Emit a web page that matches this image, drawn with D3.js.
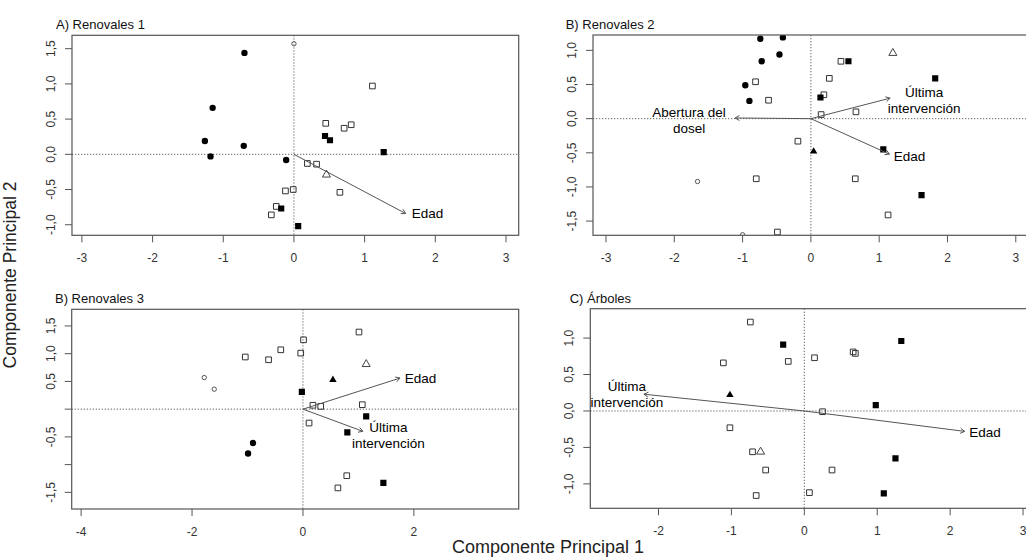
<!DOCTYPE html>
<html>
<head>
<meta charset="utf-8">
<script src="https://cdn.jsdelivr.net/npm/d3@7/dist/d3.min.js"></script>
<style>
  body { margin: 0; background: #fff; }
  svg { display: block; font-family: Arial, "Liberation Sans", sans-serif; }
</style>
</head>
<body>
<svg id="chart" width="1026" height="557"></svg>
<script>
// marker groups: a = filled circle, b = open square, c = filled square,
// d = open triangle, e = filled triangle, f = small open circle

// A) Renovales 1
const ren1Points = [
  [-0.70, 1.44, 'a'], [-1.15, 0.66, 'a'], [-1.26, 0.19, 'a'], [-0.71, 0.12, 'a'],
  [-1.18, -0.03, 'a'], [-0.11, -0.08, 'a'],
  [0.00, 1.57, 'f'],
  [1.11, 0.97, 'b'], [0.45, 0.44, 'b'], [0.71, 0.37, 'b'], [0.81, 0.42, 'b'],
  [0.19, -0.13, 'b'], [0.32, -0.14, 'b'], [0.65, -0.54, 'b'], [-0.12, -0.52, 'b'],
  [-0.01, -0.50, 'b'], [-0.25, -0.74, 'b'], [-0.32, -0.86, 'b'],
  [0.44, 0.26, 'c'], [0.51, 0.20, 'c'], [1.27, 0.03, 'c'], [-0.18, -0.77, 'c'], [0.06, -1.02, 'c'],
  [0.46, -0.29, 'd']
];
const ren1Vectors = [
  { label: ['Edad'], x: 1.58, y: -0.84 }
];

// B) Renovales 2
const ren2Points = [
  [-0.74, 1.17, 'a'], [-0.41, 1.19, 'a'], [-0.46, 0.94, 'a'], [-0.72, 0.84, 'a'],
  [-0.96, 0.49, 'a'], [-0.90, 0.26, 'a'],
  [-0.81, 0.54, 'b'], [-0.62, 0.27, 'b'], [0.44, 0.84, 'b'], [0.27, 0.59, 'b'],
  [0.19, 0.35, 'b'], [0.15, 0.06, 'b'], [0.66, 0.10, 'b'], [-0.19, -0.33, 'b'],
  [-0.80, -0.88, 'b'], [0.65, -0.88, 'b'], [1.13, -1.41, 'b'], [-0.49, -1.66, 'b'],
  [0.55, 0.84, 'c'], [1.82, 0.59, 'c'], [0.14, 0.31, 'c'], [1.06, -0.45, 'c'], [1.62, -1.12, 'c'],
  [0.04, -0.48, 'e'],
  [1.20, 0.96, 'd'],
  [-1.66, -0.92, 'f'], [-1.00, -1.70, 'f']
];
const ren2Vectors = [
  { label: ['Edad'], x: 1.15, y: -0.52 },
  { label: ['Última', 'intervención'], x: 1.16, y: 0.30 },
  { label: ['Abertura del', 'dosel'], x: -1.11, y: 0.01 }
];

// B) Renovales 3
const ren3Points = [
  [-1.78, 0.57, 'f'], [-1.60, 0.36, 'f'],
  [-1.04, 0.94, 'b'], [-0.62, 0.89, 'b'], [-0.40, 1.07, 'b'], [-0.04, 1.01, 'b'],
  [0.01, 1.25, 'b'], [0.18, 0.07, 'b'], [0.11, -0.25, 'b'], [0.32, 0.05, 'b'],
  [1.07, 0.08, 'b'], [1.01, 1.39, 'b'], [0.79, -1.20, 'b'], [0.63, -1.42, 'b'],
  [-0.02, 0.31, 'c'], [1.14, -0.13, 'c'], [0.80, -0.42, 'c'], [1.45, -1.33, 'c'],
  [-0.90, -0.61, 'a'], [-0.99, -0.80, 'a'],
  [1.14, 0.81, 'd'],
  [0.54, 0.53, 'e']
];
const ren3Vectors = [
  { label: ['Edad'], x: 1.75, y: 0.56 },
  { label: ['Última', 'intervención'], x: 1.08, y: -0.40 }
];

// C) Árboles
const arbPoints = [
  [-0.74, 1.22, 'b'], [-1.11, 0.66, 'b'], [-0.22, 0.68, 'b'], [0.14, 0.73, 'b'],
  [0.67, 0.81, 'b'], [0.70, 0.79, 'b'], [0.25, -0.01, 'b'], [-1.02, -0.23, 'b'],
  [-0.71, -0.56, 'b'], [-0.53, -0.81, 'b'], [0.38, -0.81, 'b'], [-0.66, -1.16, 'b'],
  [0.07, -1.12, 'b'],
  [-0.60, -0.56, 'd'],
  [-1.02, 0.22, 'e'],
  [-0.29, 0.91, 'c'], [1.33, 0.96, 'c'], [0.98, 0.08, 'c'], [1.25, -0.65, 'c'], [1.09, -1.13, 'c']
];
const arbVectors = [
  { label: ['Edad'], x: 2.20, y: -0.28 },
  { label: ['Última', 'intervención'], x: -2.20, y: 0.23 }
];

// tick values and labels
const ren1XTicks = [-3, -2, -1, 0, 1, 2, 3];
const ren1YTicks = [-1, -0.5, 0, 0.5, 1, 1.5];
const ren1YLabels = ['-1,0', '-0,5', '0,0', '0,5', '1,0', '1,5'];
const ren2XTicks = [-3, -2, -1, 0, 1, 2, 3];
const ren2YTicks = [-1.5, -1, -0.5, 0, 0.5, 1];
const ren2YLabels = ['-1,5', '-1,0', '-0,5', '0,0', '0,5', '1,0'];
const ren3XTicks = [-4, -2, 0, 2];
const ren3YTicks = [-1.5, -1, -0.5, 0, 0.5, 1, 1.5];
const ren3YLabels = ['-1,5', '', '-0,5', '', '0,5', '1,0', '1,5'];
const arbXTicks = [-2, -1, 0, 1, 2, 3];
const arbYTicks = [-1, -0.5, 0, 0.5, 1];
const arbYLabels = ['-1,0', '-0,5', '0,0', '0,5', '1,0'];

const panels = [
  {
    id: 'p1', title: 'A) Renovales 1', titleX: 56, titleY: 28.5,
    box: { left: 72, top: 35.3, right: 518.7, bottom: 235.3 },
    xDomain: [-3.14, 3.18], yDomain: [-1.15, 1.69],
    points: ren1Points, vectors: ren1Vectors,
    labelOffsets: [[22, 4.5]],
    xTicks: ren1XTicks, yTicks: ren1YTicks, yLabels: ren1YLabels
  },
  {
    id: 'p2', title: 'B) Renovales 2', titleX: 565.7, titleY: 28.5,
    box: { left: 593, top: 35, right: 1030, bottom: 235.3 },
    xDomain: [-3.19, 3.208], yDomain: [-1.708, 1.225],
    points: ren2Points, vectors: ren2Vectors,
    labelOffsets: [[20, 7], [34, -1.6], [-46, -1]],
    xTicks: ren2XTicks, yTicks: ren2YTicks, yLabels: ren2YLabels
  },
  {
    id: 'p3', title: 'B) Renovales 3', titleX: 55, titleY: 303,
    box: { left: 71.7, top: 309.3, right: 518.7, bottom: 509 },
    xDomain: [-4.17, 3.89], yDomain: [-1.8, 1.8],
    points: ren3Points, vectors: ren3Vectors,
    labelOffsets: [[20.5, 4.7], [25.5, 0.6]],
    xTicks: ren3XTicks, yTicks: ren3YTicks, yLabels: ren3YLabels
  },
  {
    id: 'p4', title: 'C) Árboles', titleX: 569.7, titleY: 303,
    box: { left: 590.3, top: 308.7, right: 1034, bottom: 508.3 },
    xDomain: [-2.935, 3.15], yDomain: [-1.335, 1.403],
    points: arbPoints, vectors: arbVectors,
    labelOffsets: [[20.3, 5.8], [-17, -3.6]],
    xTicks: arbXTicks, yTicks: arbYTicks, yLabels: arbYLabels
  }
];

const svg = d3.select('#chart');
const axisColor = '#555';
const tickColor = '#333';

const symbolFor = {
  a: { type: d3.symbolCircle, size: 32, fill: '#000', stroke: 'none' },
  b: { type: d3.symbolSquare, size: 32, fill: 'none', stroke: '#333' },
  c: { type: d3.symbolSquare, size: 38, fill: '#000', stroke: 'none' },
  d: { type: d3.symbolTriangle, size: 28, fill: 'none', stroke: '#444' },
  e: { type: d3.symbolTriangle, size: 24, fill: '#000', stroke: 'none' },
  f: { type: d3.symbolCircle, size: 15, fill: 'none', stroke: '#555' }
};

function drawPanel(p) {
  const { box } = p;
  const x = d3.scaleLinear().domain(p.xDomain).range([box.left, box.right]);
  const y = d3.scaleLinear().domain(p.yDomain).range([box.bottom, box.top]);

  const g = svg.append('g').attr('class', 'panel ' + p.id);

  g.append('clipPath').attr('id', 'clip-' + p.id)
    .append('rect')
    .attr('x', box.left).attr('y', box.top)
    .attr('width', box.right - box.left).attr('height', box.bottom - box.top);

  // title
  g.append('text')
    .attr('x', p.titleX).attr('y', p.titleY)
    .attr('font-size', 13).attr('fill', '#111')
    .text(p.title);

  const plot = g.append('g').attr('clip-path', `url(#clip-${p.id})`);

  // dotted zero lines
  plot.append('line')
    .attr('x1', box.left).attr('x2', box.right)
    .attr('y1', y(0)).attr('y2', y(0))
    .attr('stroke', '#666').attr('stroke-width', 1).attr('stroke-dasharray', '1.3,1.7');
  plot.append('line')
    .attr('x1', x(0)).attr('x2', x(0))
    .attr('y1', box.top).attr('y2', box.bottom)
    .attr('stroke', '#666').attr('stroke-width', 1).attr('stroke-dasharray', '1.3,1.7');

  // points
  plot.selectAll('path.pt')
    .data(p.points)
    .enter()
    .append('path')
    .attr('class', 'pt')
    .attr('transform', d => `translate(${x(d[0])},${y(d[1])})`)
    .attr('d', d => d3.symbol().type(symbolFor[d[2]].type).size(symbolFor[d[2]].size)())
    .attr('fill', d => symbolFor[d[2]].fill)
    .attr('stroke', d => symbolFor[d[2]].stroke)
    .attr('stroke-width', 1);

  // vectors
  p.vectors.forEach((v, i) => {
    const x0 = x(0), y0 = y(0), x1 = x(v.x), y1 = y(v.y);
    const ang = Math.atan2(y1 - y0, x1 - x0);
    const headLen = 5, spread = Math.PI / 6;
    plot.append('line')
      .attr('x1', x0).attr('y1', y0).attr('x2', x1).attr('y2', y1)
      .attr('stroke', '#555').attr('stroke-width', 1);
    plot.append('path')
      .attr('d', d3.line()([
        [x1 - headLen * Math.cos(ang - spread), y1 - headLen * Math.sin(ang - spread)],
        [x1, y1],
        [x1 - headLen * Math.cos(ang + spread), y1 - headLen * Math.sin(ang + spread)]
      ]))
      .attr('fill', 'none').attr('stroke', '#555').attr('stroke-width', 1);

    const [dx, dy] = p.labelOffsets[i];
    const t = g.append('text')
      .attr('x', x1 + dx).attr('y', y1 + dy)
      .attr('text-anchor', 'middle')
      .attr('font-size', 13.5).attr('fill', '#000');
    v.label.forEach((line, k) => {
      t.append('tspan').attr('x', x1 + dx).attr('dy', k === 0 ? 0 : 16).text(line);
    });
  });

  // box
  g.append('rect')
    .attr('x', box.left).attr('y', box.top)
    .attr('width', box.right - box.left).attr('height', box.bottom - box.top)
    .attr('fill', 'none').attr('stroke', axisColor).attr('stroke-width', 1.2);

  // x axis ticks
  const xAxis = g.append('g').attr('class', 'x-axis');
  xAxis.selectAll('line')
    .data(p.xTicks).enter().append('line')
    .attr('x1', d => x(d)).attr('x2', d => x(d))
    .attr('y1', box.bottom).attr('y2', box.bottom + 7)
    .attr('stroke', axisColor);
  xAxis.selectAll('text')
    .data(p.xTicks).enter().append('text')
    .attr('x', d => x(d)).attr('y', box.bottom + 27)
    .attr('text-anchor', 'middle')
    .attr('font-size', 12).attr('fill', tickColor)
    .text(d => d3.format('d')(d).replace('−', '-'));

  // y axis ticks
  const yAxis = g.append('g').attr('class', 'y-axis');
  yAxis.selectAll('line')
    .data(p.yTicks).enter().append('line')
    .attr('x1', box.left - 7).attr('x2', box.left)
    .attr('y1', d => y(d)).attr('y2', d => y(d))
    .attr('stroke', axisColor);
  yAxis.selectAll('text')
    .data(p.yTicks).enter().append('text')
    .attr('transform', d => `translate(${box.left - 17},${y(d)}) rotate(-90)`)
    .attr('text-anchor', 'middle')
    .attr('font-size', 12).attr('fill', tickColor)
    .text((d, i) => p.yLabels[i]);
}

panels.forEach(drawPanel);

// shared axis titles
svg.append('text')
  .attr('x', 548).attr('y', 553)
  .attr('text-anchor', 'middle')
  .attr('font-size', 18).attr('fill', '#222')
  .text('Componente Principal 1');

svg.append('text')
  .attr('transform', 'translate(16,275) rotate(-90)')
  .attr('text-anchor', 'middle')
  .attr('font-size', 17.5).attr('fill', '#222')
  .text('Componente Principal 2');
</script>
</body>
</html>
